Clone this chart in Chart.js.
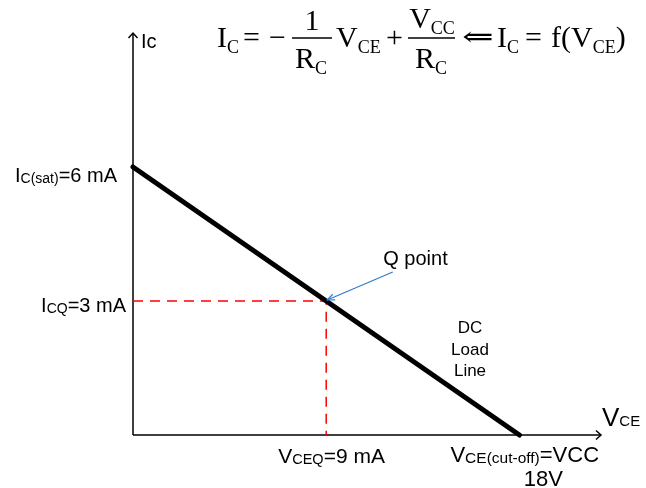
<!DOCTYPE html>
<html><head><meta charset="utf-8">
<script src="https://cdn.jsdelivr.net/npm/chart.js@4"></script>
<style>html,body{margin:0;padding:0;background:#fff}canvas{display:block}</style>
</head><body>
<canvas id="c" width="646" height="488"></canvas>
<script>
// DC load line end points (V_CE in V, I_C in mA)
const vceValues = [0, 18];
const icValues = [6, 0];
// Q point projection (dashed guides)
const qVce = [0, 9, 9];
const qIc = [3, 3, 0];
// axis extents
const xMax = 21.8;
const yMax = 9;
// tail of the "Q point" pointer arrow (data units)
const qArrowTail = [12.1, 3.65];

const SANS = "'Liberation Sans', Arial, sans-serif";
const SERIF = "'Liberation Serif', 'DejaVu Serif', serif";

function drawRuns(ctx, parts, x, y, align, family) {
  const fam = family || SANS;
  let total = 0;
  const widths = parts.map(p => {
    ctx.font = p[1] + 'px ' + fam;
    const w = ctx.measureText(p[0]).width;
    total += w;
    return w;
  });
  let cx = x;
  if (align === 'right') cx = x - total;
  else if (align === 'center') cx = x - total / 2;
  parts.forEach((p, i) => {
    ctx.font = p[1] + 'px ' + fam;
    ctx.fillText(p[0], cx, y + (p[2] || 0));
    cx += widths[i];
  });
}

const overlay = {
  id: 'overlay',
  beforeDatasetsDraw(chart) {
    const ctx = chart.ctx;
    const xs = chart.scales.x, ys = chart.scales.y;
    const x0 = xs.getPixelForValue(0), y0 = ys.getPixelForValue(0);
    const xe = xs.getPixelForValue(xMax), ye = ys.getPixelForValue(yMax);
    ctx.save();
    ctx.strokeStyle = '#000';
    ctx.lineWidth = 1.5;
    ctx.beginPath();
    ctx.moveTo(x0, y0); ctx.lineTo(xe, y0);
    ctx.moveTo(x0, y0); ctx.lineTo(x0, ye);
    ctx.stroke();
    ctx.beginPath();
    ctx.moveTo(xe - 5, y0 - 4.5); ctx.lineTo(xe, y0); ctx.lineTo(xe - 5, y0 + 4.5);
    ctx.moveTo(x0 - 4.5, ye + 5); ctx.lineTo(x0, ye); ctx.lineTo(x0 + 4.5, ye + 5);
    ctx.stroke();
    ctx.restore();
  },
  afterDatasetsDraw(chart) {
    const ctx = chart.ctx;
    const xs = chart.scales.x, ys = chart.scales.y;
    const px = v => xs.getPixelForValue(v), py = v => ys.getPixelForValue(v);
    ctx.save();
    ctx.fillStyle = '#000';
    ctx.textBaseline = 'alphabetic';

    // Q point pointer
    const tx = px(qArrowTail[0]), ty = py(qArrowTail[1]);
    const hx = px(qVce[1]) + 1, hy = py(qIc[1]) - 1;
    ctx.strokeStyle = '#2E7BCF';
    ctx.lineWidth = 1.2;
    ctx.beginPath(); ctx.moveTo(tx, ty); ctx.lineTo(hx, hy); ctx.stroke();
    const ang = Math.atan2(hy - ty, hx - tx);
    ctx.beginPath();
    ctx.moveTo(hx - 8 * Math.cos(ang - 0.4), hy - 8 * Math.sin(ang - 0.4));
    ctx.lineTo(hx, hy);
    ctx.lineTo(hx - 8 * Math.cos(ang + 0.4), hy - 8 * Math.sin(ang + 0.4));
    ctx.stroke();

    // axis labels
    drawRuns(ctx, [['Ic', 20]], px(0) + 8, py(yMax) + 15, 'left');
    drawRuns(ctx, [['V', 26], ['CE', 15]], px(xMax) + 1, py(0) - 9, 'left');

    // value labels
    drawRuns(ctx, [['I', 20], ['C(sat)', 14, 1], ['=6 mA', 20]], px(0) - 16, py(icValues[0]) + 15, 'right');
    drawRuns(ctx, [['I', 20], ['CQ', 14, 1], ['=3 mA', 20]], px(0) - 7, py(qIc[0]) + 11, 'right');
    drawRuns(ctx, [['V', 21], ['CEQ', 14.5, 1], ['=9 mA', 21]], px(qVce[1]) - 48, py(0) + 28, 'left');
    drawRuns(ctx, [['V', 22], ['CE(cut-off)', 15.5, 1], ['=VCC', 22]], px(vceValues[1]) - 69, py(0) + 27, 'left');
    drawRuns(ctx, [['18V', 22]], px(vceValues[1]) + 24, py(0) + 51, 'center');
    drawRuns(ctx, [['Q point', 20]], px(qVce[1]) + 57, py(qIc[1]) - 36, 'left');
    drawRuns(ctx, [['DC', 17]], 470, 333, 'center');
    drawRuns(ctx, [['Load', 17]], 470, 355, 'center');
    drawRuns(ctx, [['Line', 17]], 470, 376, 'center');

    // formula
    const B = 47, F = 30, S = 18, D = 6;
    drawRuns(ctx, [['I', F], ['C', S, D]], 217, B, 'left', SERIF);
    drawRuns(ctx, [['=', F]], 243, B, 'left', SERIF);
    drawRuns(ctx, [['\u2212', F]], 269, B, 'left', SERIF);
    ctx.strokeStyle = '#000'; ctx.lineWidth = 1.3;
    ctx.beginPath(); ctx.moveTo(292, 38); ctx.lineTo(332, 38); ctx.stroke();
    drawRuns(ctx, [['1', F]], 312, 30, 'center', SERIF);
    drawRuns(ctx, [['R', F], ['C', S, D]], 311, 68, 'center', SERIF);
    drawRuns(ctx, [['V', F], ['CE', S, D]], 336, B, 'left', SERIF);
    drawRuns(ctx, [['+', F]], 386, B, 'left', SERIF);
    ctx.beginPath(); ctx.moveTo(408, 38); ctx.lineTo(455, 38); ctx.stroke();
    drawRuns(ctx, [['V', F], ['CC', S, D]], 432, 28, 'center', SERIF);
    drawRuns(ctx, [['R', F], ['C', S, D]], 431, 68, 'center', SERIF);
    // wide left double arrow, kept as a text glyph, stretched horizontally
    ctx.save();
    ctx.translate(462, B - 1);
    ctx.scale(1.35, 1);
    ctx.font = "28px 'DejaVu Serif', serif";
    ctx.fillText('\u21D0', 0, 0);
    ctx.restore();
    drawRuns(ctx, [['I', F], ['C', S, D]], 497, B, 'left', SERIF);
    drawRuns(ctx, [['=', F]], 525, B, 'left', SERIF);
    drawRuns(ctx, [['f(', F], ['V', F], ['CE', S, D], [')', F]], 551, B, 'left', SERIF);
    ctx.restore();
  }
};

new Chart(document.getElementById('c'), {
  type: 'scatter',
  data: {
    datasets: [
      {
        data: vceValues.map((v, i) => ({ x: v, y: icValues[i] })),
        showLine: true, borderColor: '#000', borderWidth: 5,
        borderCapStyle: 'round', pointRadius: 0, clip: false
      },
      {
        data: qVce.map((v, i) => ({ x: v, y: qIc[i] })),
        showLine: true, borderColor: '#FF0000', borderWidth: 1.5,
        borderDash: [10, 7], pointRadius: 0, clip: false
      }
    ]
  },
  options: {
    responsive: false,
    animation: false,
    layout: { padding: { left: 133, right: 45, top: 33, bottom: 53 } },
    scales: {
      x: { type: 'linear', min: 0, max: xMax, display: false },
      y: { type: 'linear', min: 0, max: yMax, display: false }
    },
    plugins: { legend: { display: false }, tooltip: { enabled: false } }
  },
  plugins: [overlay]
});
</script>
</body></html>
